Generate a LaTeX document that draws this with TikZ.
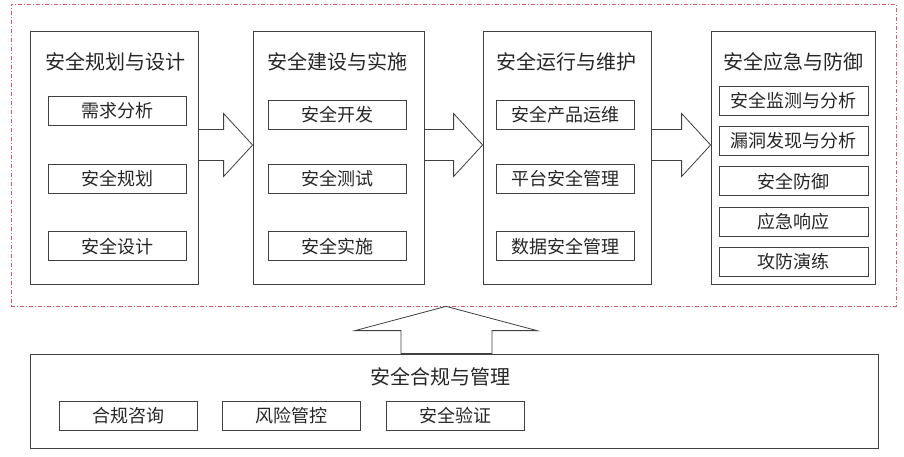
\documentclass[tikz,border=0pt]{standalone}
\usepackage{fontspec}
\setmainfont{Noto Sans CJK SC}
\usetikzlibrary{positioning,calc}
\definecolor{linegray}{RGB}{64,64,64}
\definecolor{framered}{RGB}{226,84,104}
\tikzset{
    %Define style for the dash-dot frame
    redframe/.style={
           rectangle,
           draw=framered, line width=0.7pt,
           dash pattern=on 4pt off 2pt on 1pt off 2pt,
           inner sep=0pt},
    %Define style for stage boxes
    stage/.style={
           rectangle,
           draw=linegray, line width=0.8pt,
           minimum height=253pt,
           inner sep=0pt},
    %Define style for stage titles
    stagetitle/.style={
           font=\fontsize{20}{24}\selectfont,
           text=black!85,
           inner sep=0pt},
    %Define style for inner boxes
    item/.style={
           rectangle,
           draw=linegray, line width=0.8pt,
           minimum width=138pt,
           minimum height=29pt,
           font=\fontsize{18}{20}\selectfont,
           text=black!85,
           inner sep=0pt},
    % Define block arrow style
    bigarrow/.style={
           draw=linegray, line width=0.8pt,
           fill=white, line join=miter}
}

\begin{document}
\begin{tikzpicture}[x=1pt,y=-1pt]
\useasboundingbox (0,0) rectangle (904,456);

 %frame
\node[redframe, minimum width=885pt, minimum height=302pt] (zone) at (453.5,155) {};

 %stages
\node[stage, minimum width=168pt] (plan) at (114,157.5) {};
\node[stage, minimum width=171pt] (build) at (338.5,157.5) {};
\node[stage, minimum width=168pt] (run) at (567,157.5) {};
\node[stage, minimum width=164pt] (defend) at (793,157.5) {};

\node[stagetitle] (planT) at ($(plan.north)+(1,31)$) {安全规划与设计};
\node[stagetitle] (buildT) at ($(build.north)+(-1,31)$) {安全建设与实施};
\node[stagetitle] (runT) at ($(run.north)+(-1,31)$) {安全运行与维护};
\node[stagetitle] (defendT) at ($(defend.north)+(0,31)$) {安全应急与防御};

 %inner boxes
\node[item] (plan1) at (117.5,111) {需求分析};
\node[item, below=38pt of plan1] (plan2) {安全规划};
\node[item, below=37.5pt of plan2] (plan3) {安全设计};

\node[item] (build1) at (337.5,115) {安全开发};
\node[item, below=34pt of build1] (build2) {安全测试};
\node[item, below=37.5pt of build2] (build3) {安全实施};

\node[item] (run1) at (565,115) {安全产品运维};
\node[item, below=34pt of run1] (run2) {平台安全管理};
\node[item, below=37.5pt of run2] (run3) {数据安全管理};

\node[item, minimum width=149pt] (defend1) at (793.5,100.5) {安全监测与分析};
\node[item, minimum width=149pt, below=10.5pt of defend1] (defend2) {漏洞发现与分析};
\node[item, minimum width=149pt, below=10.5pt of defend2] (defend3) {安全防御};
\node[item, minimum width=149pt, below=10.5pt of defend3] (defend4) {应急响应};
\node[item, minimum width=149pt, below=10.5pt of defend4] (defend5) {攻防演练};

 %flow arrows
\foreach \a/\b in {plan/build, build/run, run/defend}
  \draw[bigarrow] let \p1=(\a.east), \p2=(\b.west) in
    (\x1,\y1+28pt) -- (\x2-29pt,\y1+28pt) -- (\x2-29pt,\y1+44pt)
    -- (\x2,\y1+12.5pt) -- (\x2-29pt,\y1-19pt) -- (\x2-29pt,\y1-3pt)
    -- (\x1,\y1-3pt) -- cycle;

 %compliance
\node[stage, minimum width=848pt, minimum height=94pt] (comply) at (454,401) {};
\node[stagetitle] (complyT) at (440,377) {安全合规与管理};
\node[item] (comply1) at (128,416) {合规咨询};
\node[item, right=25pt of comply1] (comply2) {风险管控};
\node[item, right=25pt of comply2] (comply3) {安全验证};

\draw[bigarrow] let \p1=(comply.north), \p2=(zone.south) in
  (\x1-53pt,\y1) -- (\x1-53pt,\y1+23pt) -- (\x1-99pt,\y1+23pt)
  -- (\x1-8pt,\y2) -- (\x1+83pt,\y1+23pt) -- (\x1+38pt,\y1+23pt)
  -- (\x1+38pt,\y1) -- cycle;
\end{tikzpicture}
\end{document}
